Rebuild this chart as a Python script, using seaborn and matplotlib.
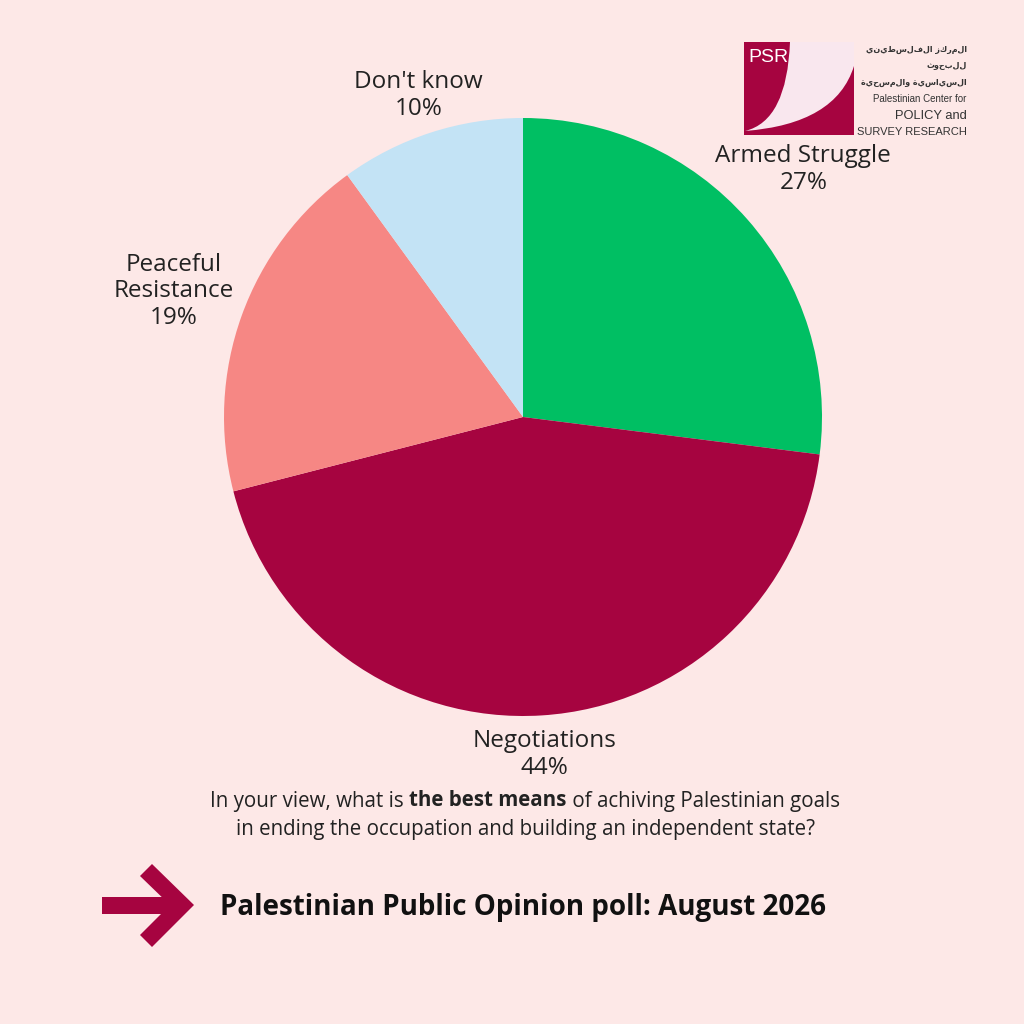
# plot.py
# Pie chart of the PSR poll question on the best means to achieve Palestinian goals.

import numpy as np
import matplotlib.pyplot as plt
import seaborn as sns
from matplotlib.patches import Polygon, Rectangle, PathPatch
from matplotlib.path import Path

# Data
categories = ["Armed Struggle", "Negotiations", "Peaceful\nResistance", "Don't know"]
shares = [27, 44, 19, 10]
label_dist = [1.25, 1.13, 1.24, 1.13]

question_parts = [("In your view, what is ", "normal"), ("the best means", "bold"),
                  (" of achiving Palestinian goals", "normal")]
question_line2 = "in ending the occupation and building an independent state?"
footer = "Palestinian Public Opinion poll: August 2026"
logo_arabic = ["المركز الفلسطيني", "للبحوث", "السياسية والمسحية"]

# Colors
c_bg = "#FDE8E7"
c_crimson = "#A60440"
c_green = "#00BF63"
c_salmon = "#F68784"
c_blue = "#C3E3F5"
c_text = "#222222"
pie_colors = [c_green, c_crimson, c_salmon, c_blue]

sns.set_theme(style="white")
plt.rcParams["font.family"] = ["Open Sans", "DejaVu Sans"]

fig = plt.figure(figsize=(10.24, 10.24), dpi=100, facecolor=c_bg)
ax = fig.add_axes([0, 0, 1, 1])
ax.set_facecolor(c_bg)

# pie centre at pixel (523, 417), radius 299 px
R = 299.0
CX, CY = 523.0, 417.0


def px(x, y):
    return ((x - CX) / R, (CY - y) / R)


wedges, _ = ax.pie(shares, colors=pie_colors, startangle=90, counterclock=False,
                   radius=1.0, wedgeprops=dict(linewidth=0))
ax.set_xlim(-CX / R, (1024 - CX) / R)
ax.set_ylim(-(1024 - CY) / R, CY / R)
ax.set_aspect("equal")
ax.axis("off")

for w, name, val, d in zip(wedges, categories, shares, label_dist):
    mid = np.deg2rad((w.theta1 + w.theta2) / 2)
    ax.text(d * np.cos(mid), d * np.sin(mid), f"{name}\n{val}%", ha="center", va="center",
            fontsize=17.5, color=c_text, linespacing=1.15)

# Question text with bold middle part
fig.canvas.draw()
renderer = fig.canvas.get_renderer()
pieces = []
for txt, wt in question_parts:
    t = fig.text(0, 1 - 801 / 1024, txt, fontsize=14.8, fontweight=wt, color=c_text, va="center")
    pieces.append(t)
widths = [p.get_window_extent(renderer).width for p in pieces]
x0 = 525 - sum(widths) / 2
for p, w in zip(pieces, widths):
    p.set_x(x0 / 1024)
    x0 += w
fig.text(525 / 1024, 1 - 830 / 1024, question_line2, fontsize=14.8, color=c_text,
         ha="center", va="center")

# Footer title and arrow
fig.text(523 / 1024, 1 - 907 / 1024, footer, fontsize=20, fontweight="bold",
         color="#111111", ha="center", va="center")
shaft = [px(102, 897), px(170, 897), px(170, 914), px(102, 914)]
head = [px(152, 864), px(194, 905), px(152, 947), px(140, 935), px(170, 905), px(140, 876)]
ax.add_patch(Polygon(shaft, closed=True, color=c_crimson, lw=0))
ax.add_patch(Polygon(head, closed=True, color=c_crimson, lw=0))

# PSR logo
bx0, by0 = px(744, 135)
bx1, by1 = px(854, 42)
ax.add_patch(Rectangle((bx0, by0), bx1 - bx0, by1 - by0, color=c_crimson, lw=0))
swoosh = Path([px(790, 42), px(854, 42), px(854, 66), px(836, 124), px(745, 131),
               px(787, 121), px(790, 42), px(790, 42)],
              [Path.MOVETO, Path.LINETO, Path.LINETO, Path.CURVE3, Path.CURVE3,
               Path.CURVE3, Path.CURVE3, Path.CLOSEPOLY])
ax.add_patch(PathPatch(swoosh, facecolor="#F9E7EE", lw=0))
ax.text(*px(768, 58), "PSR", fontsize=14, color="white", ha="center", va="center",
        family=["Liberation Sans", "DejaVu Sans"])

for i, line in enumerate(logo_arabic):
    ax.text(*px(967, 50 + i * 16), line[::-1], fontsize=5.8, fontweight="bold", color="#333333",
            ha="right", va="center", family=["DejaVu Sans"])
ax.text(*px(966, 99), "Palestinian Center for", fontsize=7, color="#333333",
        ha="right", va="center", family=["Liberation Sans", "DejaVu Sans"])
ax.text(*px(967, 116), "POLICY and", fontsize=9.3, color="#333333",
        ha="right", va="center", family=["Liberation Sans", "DejaVu Sans"])
ax.text(*px(967, 132), "SURVEY RESEARCH", fontsize=8, color="#333333",
        ha="right", va="center", family=["Liberation Sans", "DejaVu Sans"])

fig.savefig("out.png", dpi=100, facecolor=c_bg)
